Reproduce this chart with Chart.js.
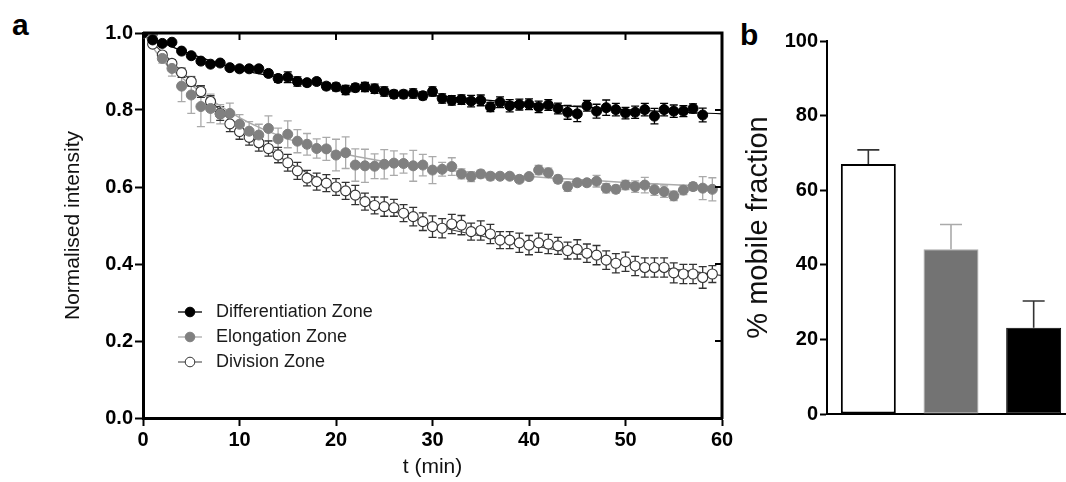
<!DOCTYPE html>
<html>

<head>
    <title>Mobile fraction</title>
    <script src="https://cdn.jsdelivr.net/npm/chart.js@4.4.0/dist/chart.umd.min.js"></script>
    <style>
        body { margin: 0; width: 1066px; height: 482px; overflow: hidden; background: #fff; position: relative;
               font-family: "Liberation Sans", Arial, sans-serif; }
        #wrapA { position: absolute; left: 0; top: 0; width: 740px; height: 482px; }
        #wrapB { position: absolute; left: 730px; top: 0; width: 350px; height: 482px; }
        .panel { position: absolute; font-weight: bold; font-size: 30px; line-height: 30px; color: #000; }
    </style>
    <script>
        // time points (min)
        var minutes = [0, 1, 2, 3, 4, 5, 6, 7, 8, 9, 10, 11, 12, 13, 14, 15, 16, 17, 18, 19,
            20, 21, 22, 23, 24, 25, 26, 27, 28, 29, 30, 31, 32, 33, 34, 35, 36, 37, 38, 39,
            40, 41, 42, 43, 44, 45, 46, 47, 48, 49, 50, 51, 52, 53, 54, 55, 56, 57, 58, 59];

        var diffMean = [1.000, 0.982, 0.973, 0.976, 0.953, 0.941, 0.927, 0.919, 0.922, 0.910,
            0.907, 0.907, 0.907, 0.895, 0.882, 0.885, 0.874, 0.871, 0.874, 0.862,
            0.860, 0.852, 0.858, 0.860, 0.855, 0.848, 0.841, 0.841, 0.843, 0.837,
            0.848, 0.830, 0.825, 0.827, 0.823, 0.825, 0.808, 0.820, 0.811, 0.814,
            0.815, 0.808, 0.813, 0.804, 0.794, 0.790, 0.811, 0.797, 0.806, 0.801,
            0.792, 0.794, 0.801, 0.784, 0.801, 0.797, 0.797, 0.804, 0.787];
        var diffErr = [0, 0.003, 0.003, 0.004, 0.004, 0.005, 0.005, 0.006, 0.006, 0.006,
            0.007, 0.007, 0.007, 0.008, 0.010, 0.014, 0.012, 0.008, 0.008, 0.009,
            0.010, 0.012, 0.010, 0.012, 0.012, 0.012, 0.010, 0.010, 0.012, 0.010,
            0.012, 0.012, 0.012, 0.012, 0.015, 0.014, 0.012, 0.014, 0.016, 0.014,
            0.014, 0.015, 0.014, 0.014, 0.018, 0.020, 0.014, 0.018, 0.020, 0.016,
            0.015, 0.016, 0.016, 0.020, 0.016, 0.016, 0.014, 0.012, 0.018];

        var elongMean = [1.000, 0.998, 0.934, 0.908, 0.862, 0.839, 0.809, 0.804, 0.789, 0.791,
            0.763, 0.745, 0.735, 0.752, 0.725, 0.737, 0.719, 0.711, 0.700, 0.699,
            0.683, 0.689, 0.657, 0.655, 0.654, 0.659, 0.662, 0.661, 0.655, 0.657,
            0.644, 0.646, 0.653, 0.634, 0.627, 0.634, 0.628, 0.628, 0.628, 0.620,
            0.627, 0.644, 0.637, 0.620, 0.601, 0.611, 0.611, 0.615, 0.597, 0.594,
            0.605, 0.601, 0.605, 0.593, 0.588, 0.577, 0.592, 0.601, 0.597, 0.594];
        var elongErr = [0, 0, 0.012, 0.020, 0.040, 0.048, 0.052, 0.037, 0.025, 0.027,
            0.025, 0.025, 0.028, 0.033, 0.028, 0.035, 0.030, 0.028, 0.025, 0.030,
            0.041, 0.041, 0.042, 0.043, 0.032, 0.038, 0.032, 0.025, 0.040, 0.028,
            0.035, 0.018, 0.023, 0.013, 0.013, 0.010, 0.010, 0.008, 0.008, 0.008,
            0.008, 0.012, 0.012, 0.010, 0.012, 0.008, 0.008, 0.015, 0.012, 0.010,
            0.012, 0.015, 0.020, 0.015, 0.015, 0.012, 0.012, 0.010, 0.030, 0.030];

        var divMean = [1.000, 0.971, 0.943, 0.921, 0.897, 0.874, 0.848, 0.822, 0.791, 0.764,
            0.744, 0.729, 0.715, 0.700, 0.683, 0.663, 0.642, 0.623, 0.614, 0.610,
            0.600, 0.590, 0.579, 0.562, 0.552, 0.549, 0.546, 0.532, 0.523, 0.510,
            0.497, 0.493, 0.504, 0.501, 0.484, 0.487, 0.478, 0.462, 0.462, 0.455,
            0.449, 0.455, 0.452, 0.447, 0.435, 0.438, 0.428, 0.423, 0.410, 0.402,
            0.406, 0.395, 0.391, 0.391, 0.391, 0.377, 0.374, 0.374, 0.365, 0.374];
        var divErr = [0, 0.005, 0.008, 0.010, 0.012, 0.012, 0.015, 0.015, 0.018, 0.020,
            0.020, 0.020, 0.022, 0.020, 0.020, 0.022, 0.022, 0.020, 0.022, 0.022,
            0.022, 0.022, 0.025, 0.022, 0.022, 0.025, 0.022, 0.022, 0.024, 0.023,
            0.028, 0.025, 0.025, 0.025, 0.022, 0.025, 0.025, 0.022, 0.022, 0.025,
            0.025, 0.025, 0.025, 0.022, 0.022, 0.025, 0.024, 0.025, 0.024, 0.025,
            0.025, 0.025, 0.025, 0.025, 0.025, 0.026, 0.025, 0.025, 0.028, 0.022];

        // fitted curves
        var fitT = [0, 2, 5, 10, 15, 20, 30, 40, 50, 60];
        var diffFit = [1.0, 0.975, 0.945, 0.905, 0.882, 0.862, 0.838, 0.817, 0.801, 0.790];
        var elongFit = [1.0, 0.93, 0.865, 0.78, 0.725, 0.69, 0.648, 0.627, 0.612, 0.600];
        var divFit = [1.0, 0.95, 0.875, 0.752, 0.665, 0.600, 0.502, 0.450, 0.405, 0.370];

        var yTicksA = [0, 0.2, 0.4, 0.6, 0.8, 1.0];
        var topTicks = [10, 20, 30, 40, 50];
        var rightTicks = [0.2, 0.4, 0.6, 0.8];

        // panel b
        var zones = ['Division Zone', 'Elongation Zone', 'Differentiation Zone'];
        var mobile = [67.0, 44.2, 23.1];
        var mobileErr = [3.8, 6.6, 7.2];

        function pts(xs, ys) {
            return ys.map((v, i) => ({ x: xs[i], y: v }));
        }

        var errorBars = {
            id: 'errorBars',
            beforeDatasetsDraw(chart) {
                var ctx = chart.ctx;
                chart.data.datasets.forEach((ds, i) => {
                    if (!ds.errors) return;
                    var meta = chart.getDatasetMeta(i);
                    var ys = chart.scales[meta.yAxisID];
                    ctx.save();
                    ctx.lineWidth = ds.errorWidth;
                    meta.data.forEach((el, j) => {
                        var e = ds.errors[j];
                        if (!e) return;
                        ctx.strokeStyle = Array.isArray(ds.errorColor) ? ds.errorColor[j] : ds.errorColor;
                        var d = ds.data[j];
                        var v = typeof d === 'object' ? d.y : d;
                        var top = ys.getPixelForValue(v + e);
                        var bot = ds.upOnly ? ys.getPixelForValue(v) : ys.getPixelForValue(v - e);
                        var x = el.x, c = ds.capHalf;
                        ctx.beginPath();
                        ctx.moveTo(x, top); ctx.lineTo(x, bot);
                        ctx.moveTo(x - c, top); ctx.lineTo(x + c, top);
                        if (!ds.upOnly) { ctx.moveTo(x - c, bot); ctx.lineTo(x + c, bot); }
                        ctx.stroke();
                    });
                    ctx.restore();
                });
            }
        };

        var frameA = {
            id: 'frameA',
            afterDraw(chart) {
                var ctx = chart.ctx, a = chart.chartArea, x = chart.scales.x, y = chart.scales.y;
                ctx.save();
                ctx.strokeStyle = '#000';
                ctx.lineWidth = 3;
                ctx.beginPath();
                ctx.moveTo(a.left, a.top); ctx.lineTo(a.right, a.top); ctx.lineTo(a.right, a.bottom + 1);
                ctx.stroke();
                ctx.lineWidth = 2;
                ctx.beginPath();
                topTicks.forEach(v => { var px = x.getPixelForValue(v); ctx.moveTo(px, a.top); ctx.lineTo(px, a.top + 7); });
                rightTicks.forEach(v => { var py = y.getPixelForValue(v); ctx.moveTo(a.right, py); ctx.lineTo(a.right - 7, py); });
                ctx.stroke();

                // legend inside the plot
                var items = [
                    { text: 'Differentiation Zone', fill: '#000', stroke: '#000', line: '#000' },
                    { text: 'Elongation Zone', fill: '#808080', stroke: '#808080', line: '#aaa' },
                    { text: 'Division Zone', fill: '#fff', stroke: '#333', line: '#666' }
                ];
                ctx.font = '18px "Liberation Sans", Arial, sans-serif';
                ctx.textBaseline = 'middle';
                items.forEach((it, i) => {
                    var cy = a.top + 279 + i * 25, lx = a.left + 35;
                    ctx.strokeStyle = it.line; ctx.lineWidth = 1.3;
                    ctx.beginPath(); ctx.moveTo(lx, cy); ctx.lineTo(lx + 24, cy); ctx.stroke();
                    ctx.beginPath(); ctx.arc(lx + 12, cy, 4.8, 0, Math.PI * 2);
                    ctx.fillStyle = it.fill; ctx.fill();
                    ctx.strokeStyle = it.stroke; ctx.lineWidth = 1; ctx.stroke();
                    ctx.fillStyle = '#1a1a1a';
                    ctx.fillText(it.text, lx + 38, cy);
                });
                ctx.restore();
            }
        };

        window.addEventListener('load', () => {
            Chart.defaults.font.family = '"Liberation Sans", Arial, sans-serif';
            Chart.defaults.color = '#000';

            new Chart(document.getElementById('chartA').getContext('2d'), {
                type: 'scatter',
                data: {
                    datasets: [{
                        label: 'Differentiation Zone',
                        data: pts(minutes, diffMean),
                        errors: diffErr, errorColor: '#000', errorWidth: 1.3, capHalf: 4,
                        backgroundColor: '#000', borderColor: '#000',
                        pointRadius: 5, pointBorderWidth: 1, showLine: false
                    }, {
                        label: 'Elongation Zone',
                        data: pts(minutes, elongMean),
                        errors: elongErr, errorColor: '#aaa', errorWidth: 1.3, capHalf: 4,
                        backgroundColor: '#808080', borderColor: '#808080',
                        pointRadius: 5, pointBorderWidth: 1, showLine: false
                    }, {
                        label: 'Division Zone',
                        data: pts(minutes, divMean),
                        errors: divErr, errorColor: '#333', errorWidth: 1.3, capHalf: 4,
                        backgroundColor: '#fff', borderColor: '#333',
                        pointRadius: 5, pointBorderWidth: 1.1, showLine: false
                    }, {
                        label: 'diff fit', data: pts(fitT, diffFit), showLine: true,
                        borderColor: '#000', borderWidth: 1.2, pointRadius: 0, cubicInterpolationMode: 'monotone'
                    }, {
                        label: 'elong fit', data: pts(fitT, elongFit), showLine: true,
                        borderColor: '#aaa', borderWidth: 1.5, pointRadius: 0, cubicInterpolationMode: 'monotone'
                    }, {
                        label: 'div fit', data: pts(fitT, divFit), showLine: true,
                        borderColor: '#444', borderWidth: 1.2, pointRadius: 0, cubicInterpolationMode: 'monotone'
                    }]
                },
                options: {
                    responsive: false,
                    animation: false,
                    layout: { padding: { top: 33, right: 18, left: 0, bottom: 0 } },
                    plugins: { legend: { display: false }, tooltip: { enabled: false } },
                    scales: {
                        x: {
                            type: 'linear', min: 0, max: 60,
                            ticks: { stepSize: 10, autoSkip: false, maxRotation: 0, padding: 2,
                                font: { size: 20, weight: 'bold' }, color: '#000' },
                            grid: { drawOnChartArea: false, tickLength: 8, tickWidth: 2, tickColor: '#000' },
                            border: { color: '#000', width: 3 },
                            title: { display: true, text: 't (min)', font: { size: 21 }, color: '#111',
                                padding: { top: 0, bottom: 2 } },
                            afterFit(s) { s.height = 64; }
                        },
                        y: {
                            min: 0, max: 1,
                            afterBuildTicks(s) { s.ticks = yTicksA.map(v => ({ value: v })); },
                            ticks: { padding: 2, font: { size: 20, weight: 'bold' }, color: '#000',
                                callback: v => v.toFixed(1) },
                            grid: { drawOnChartArea: false, tickLength: 8, tickWidth: 2, tickColor: '#000' },
                            border: { color: '#000', width: 3 },
                            title: { display: true, text: 'Normalised intensity', font: { size: 21 }, color: '#111',
                                padding: { top: 61, bottom: 0 } },
                            afterFit(s) { s.width = 143; }
                        }
                    }
                },
                plugins: [errorBars, frameA]
            });

            new Chart(document.getElementById('chartB').getContext('2d'), {
                type: 'bar',
                data: {
                    labels: zones,
                    datasets: [{
                        data: mobile,
                        errors: mobileErr, upOnly: true, capHalf: 11, errorWidth: 1.6,
                        errorColor: ['#333', '#aaa', '#333'],
                        backgroundColor: ['#fff', '#737373', '#000'],
                        borderColor: ['#000', '#aaa', '#000'],
                        borderWidth: [2, 1, 1],
                        borderSkipped: false,
                        barPercentage: 0.665,
                        categoryPercentage: 1.0
                    }]
                },
                options: {
                    responsive: false,
                    animation: false,
                    layout: { padding: { top: 41, right: 5, left: 0, bottom: 0 } },
                    plugins: { legend: { display: false }, tooltip: { enabled: false } },
                    scales: {
                        x: {
                            ticks: { display: false },
                            grid: { display: false, drawTicks: false },
                            border: { color: '#000', width: 2 },
                            afterFit(s) { s.height = 68; }
                        },
                        y: {
                            min: 0, max: 100,
                            ticks: { stepSize: 20, padding: 2, font: { size: 20, weight: 'bold' }, color: '#000' },
                            grid: { drawOnChartArea: false, tickLength: 7, tickWidth: 2, tickColor: '#000' },
                            border: { color: '#000', width: 2 },
                            title: { display: true, text: '% mobile fraction', font: { size: 29 }, color: '#111',
                                padding: { top: 12, bottom: 0 } },
                            afterFit(s) { s.width = 97; }
                        }
                    }
                },
                plugins: [errorBars]
            });
        });
    </script>
</head>

<body>
    <div class="panel" style="left:12px; top:10px;">a</div>
    <div class="panel" style="left:740px; top:20px;">b</div>
    <div id="wrapA"><canvas id="chartA" width="740" height="482"></canvas></div>
    <div id="wrapB"><canvas id="chartB" width="350" height="482"></canvas></div>
</body>

</html>
